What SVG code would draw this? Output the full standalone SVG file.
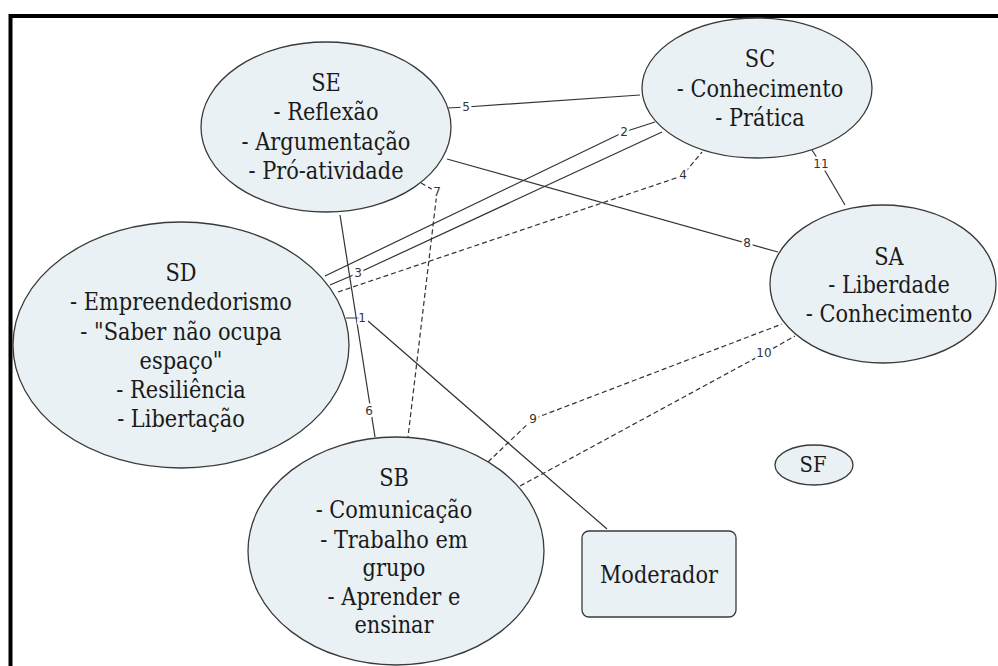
<svg xmlns="http://www.w3.org/2000/svg" width="998" height="666" viewBox="0 0 998 666">
<style>
.node{fill:#e9f1f4;stroke:#3a3a3a;stroke-width:1.3}
.t{font-size:23.5px;fill:#1a1a1a;text-anchor:middle}
.c{fill:none;stroke:#333;stroke-width:1.2}
.d{stroke-dasharray:5 3}
.lb{font-size:12px;fill:#333;text-anchor:middle;stroke:#fff;stroke-width:5;paint-order:stroke}
</style>
<rect width="998" height="666" fill="#fff"/>
<path d="M10.5,666 V16 H998" fill="none" stroke="#000" stroke-width="4"/>
<g id="connectors" font-family="DejaVu Sans, Verdana, sans-serif">
<path class="c" d="M346,318 H362 M368,321 L607,529"/>
<path class="c" d="M325,276 L624,132 L655,122"/>
<path class="c" d="M330,285 L358,273 L662,132"/>
<path class="c d" d="M338,292 L682,176 L702,152"/>
<path class="c" d="M448,108 L466,107 L640,95"/>
<path class="c" d="M340,215 L375,437"/>
<path class="c d" d="M421,183 L437,192 L408,437"/>
<path class="c" d="M447,159 L778,252"/>
<path class="c d" d="M488,462 L533,419 L782,324"/>
<path class="c d" d="M520,486 L763,354 L795,336"/>
<path class="c" d="M812,150 L821,164 L845,205"/>
<text class="lb" x="362" y="322">1</text>
<text class="lb" x="624" y="136">2</text>
<text class="lb" x="358" y="277">3</text>
<text class="lb" x="683" y="179">4</text>
<text class="lb" x="466" y="111">5</text>
<text class="lb" x="369" y="415">6</text>
<text class="lb" x="437" y="196">7</text>
<text class="lb" x="747" y="247">8</text>
<text class="lb" x="533" y="423">9</text>
<text class="lb" x="764" y="357">10</text>
<text class="lb" x="821" y="168">11</text>
</g>
<g id="SE" font-family="DejaVu Serif, serif">
<ellipse class="node" cx="326" cy="127" rx="125" ry="85"/>
<g transform="matrix(0.89,0,0,1,35.86,0)">
<text class="t" x="326" y="91">SE</text>
<text class="t" x="326" y="120">- Reflexão</text>
<text class="t" x="326" y="150">- Argumentação</text>
<text class="t" x="326" y="179">- Pró-atividade</text>
</g>
</g>
<g id="SC" font-family="DejaVu Serif, serif">
<ellipse class="node" cx="757" cy="88" rx="115" ry="70"/>
<g transform="matrix(0.89,0,0,1,83.6,0)">
<text class="t" x="760" y="67">SC</text>
<text class="t" x="760" y="97">- Conhecimento</text>
<text class="t" x="760" y="126">- Prática</text>
</g>
</g>
<g id="SD" font-family="DejaVu Serif, serif">
<ellipse class="node" cx="181" cy="345" rx="168" ry="123"/>
<g transform="matrix(0.89,0,0,1,19.91,0)">
<text class="t" x="181" y="281">SD</text>
<text class="t" x="181" y="310">- Empreendedorismo</text>
<text class="t" x="181" y="340">- "Saber não ocupa</text>
<text class="t" x="181" y="369">espaço"</text>
<text class="t" x="181" y="398">- Resiliência</text>
<text class="t" x="181" y="427">- Libertação</text>
</g>
</g>
<g id="SA" font-family="DejaVu Serif, serif">
<ellipse class="node" cx="883" cy="284" rx="113" ry="79"/>
<g transform="matrix(0.89,0,0,1,97.79,0)">
<text class="t" x="889" y="265">SA</text>
<text class="t" x="889" y="293">- Liberdade</text>
<text class="t" x="889" y="322">- Conhecimento</text>
</g>
</g>
<g id="SB" font-family="DejaVu Serif, serif">
<ellipse class="node" cx="396" cy="551" rx="148" ry="114"/>
<g transform="matrix(0.89,0,0,1,43.34,0)">
<text class="t" x="394" y="486">SB</text>
<text class="t" x="394" y="518">- Comunicação</text>
<text class="t" x="394" y="548">- Trabalho em</text>
<text class="t" x="394" y="576">grupo</text>
<text class="t" x="394" y="605">- Aprender e</text>
<text class="t" x="394" y="633">ensinar</text>
</g>
</g>
<g id="SF" font-family="DejaVu Serif, serif">
<ellipse class="node" cx="814" cy="465" rx="39" ry="20"/>
<g transform="matrix(0.89,0,0,1,89.43,0)">
<text class="t" x="813" y="472" style="font-size:22px">SF</text>
</g>
</g>
<g id="Moderador" font-family="DejaVu Serif, serif">
<rect class="node" x="582" y="531" width="154" height="86" rx="7"/>
<g transform="matrix(0.89,0,0,1,72.49,0)">
<text class="t" x="659" y="583">Moderador</text>
</g>
</g>
</svg>
